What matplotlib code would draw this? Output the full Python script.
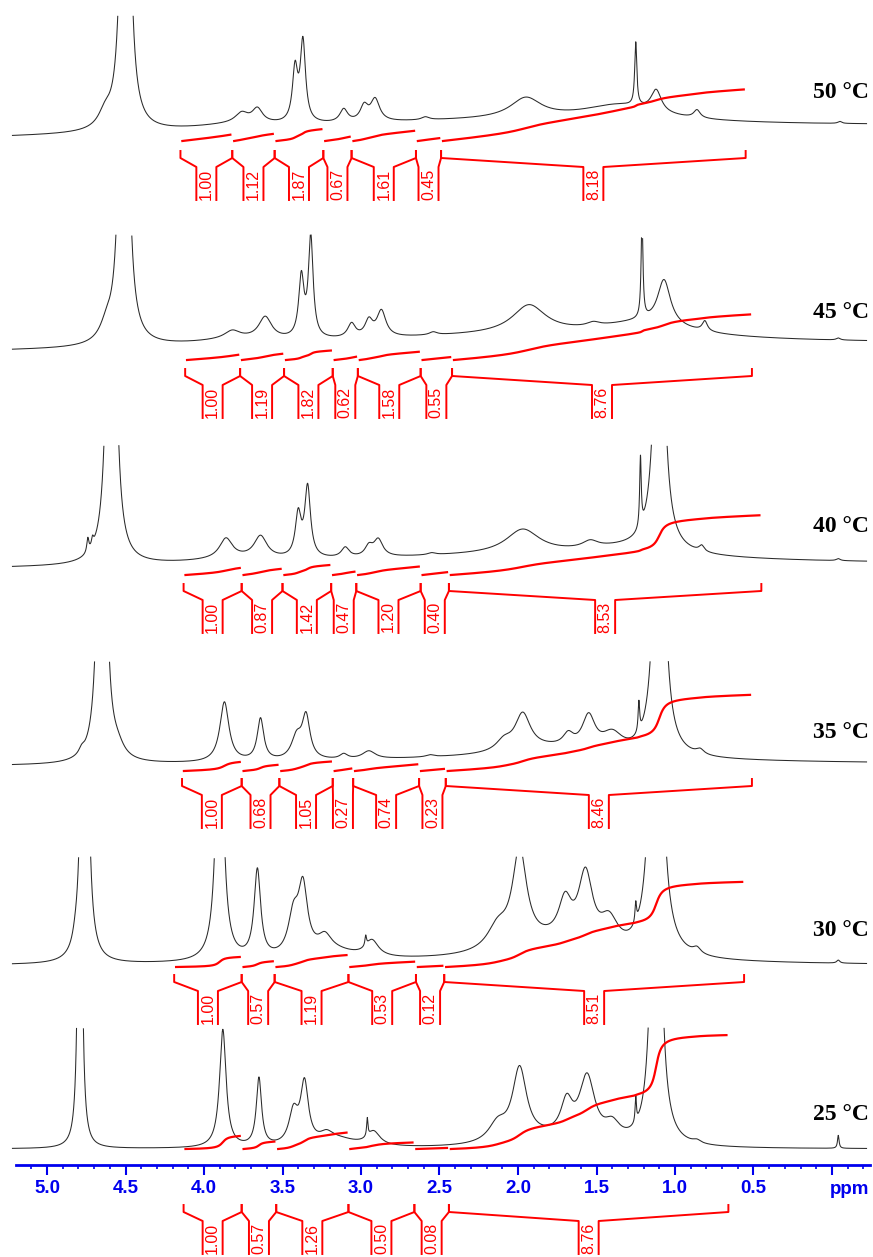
import numpy as np
import matplotlib.pyplot as plt
from matplotlib.ticker import MultipleLocator

###################################
# Data

temps = ['50 °C', '45 °C', '40 °C', '35 °C', '30 °C', '25 °C']

# peaks: (shift in ppm, height in px, half width in ppm)
peaks_50 = [(4.50, 800, 0.02), (4.63, 14, 0.05),
            (3.80, 5, 0.35), (3.76, 10, 0.05), (3.66, 14, 0.04),
            (3.42, 52, 0.02), (3.37, 80, 0.02),
            (3.11, 13, 0.03), (2.98, 15, 0.03), (2.91, 22, 0.035), (2.59, 3, 0.03),
            (1.95, 20, 0.12), (1.35, 16, 0.3),
            (1.25, 63, 0.008), (1.12, 22, 0.04), (0.86, 8, 0.025), (-0.05, 2, 0.015),
            (2.2, 13, 1.8)]
peaks_45 = [(4.51, 800, 0.02), (4.62, 15, 0.05),
            (3.80, 5, 0.35), (3.82, 8, 0.06), (3.61, 22, 0.05),
            (3.38, 60, 0.02), (3.32, 100, 0.018),
            (3.06, 14, 0.03), (2.95, 16, 0.03), (2.87, 26, 0.035), (2.54, 3, 0.03),
            (1.93, 28, 0.13), (1.52, 4, 0.05),
            (1.21, 100, 0.007), (1.07, 45, 0.05), (0.81, 10, 0.02), (-0.04, 2, 0.015),
            (1.2, 14, 0.35), (2.0, 13, 1.6)]
peaks_40 = [(4.59, 800, 0.02), (4.74, 14, 0.008), (4.71, 8, 0.008),
            (3.80, 4, 0.35), (3.86, 20, 0.05), (3.64, 22, 0.05),
            (3.40, 42, 0.022), (3.34, 70, 0.022),
            (3.10, 10, 0.03), (2.95, 10, 0.03), (2.89, 17, 0.035), (2.55, 2, 0.03),
            (1.97, 24, 0.13), (1.54, 7, 0.06),
            (1.22, 70, 0.006), (1.10, 400, 0.03), (0.83, 6, 0.02), (-0.04, 2, 0.015),
            (1.3, 8, 0.35), (2.0, 12, 1.6)]
peaks_35 = [(4.65, 800, 0.018), (4.55, 10, 0.05), (4.78, 5, 0.02),
            (3.87, 60, 0.035), (3.64, 42, 0.025),
            (3.41, 22, 0.04), (3.35, 42, 0.03),
            (3.11, 5, 0.03), (2.95, 8, 0.05), (2.56, 2, 0.03),
            (2.09, 10, 0.06), (1.97, 36, 0.06), (1.80, 8, 0.3),
            (1.68, 12, 0.04), (1.55, 33, 0.05), (1.40, 18, 0.08),
            (1.23, 30, 0.006), (1.10, 450, 0.03), (0.84, 5, 0.03),
            (2.0, 8, 1.5)]
peaks_30 = [(4.76, 800, 0.015), (4.82, 5, 0.02),
            (3.90, 300, 0.025), (3.66, 88, 0.025),
            (3.43, 38, 0.04), (3.37, 65, 0.035), (3.23, 14, 0.05), (3.20, 10, 0.2),
            (2.97, 10, 0.006), (2.93, 16, 0.05),
            (2.13, 22, 0.08), (1.99, 95, 0.055), (1.80, 15, 0.3),
            (1.70, 38, 0.05), (1.57, 70, 0.055), (1.42, 28, 0.07),
            (1.25, 20, 0.006), (1.12, 600, 0.03), (0.86, 6, 0.03), (-0.04, 3, 0.012),
            (2.0, 5, 1.5)]
peaks_25 = [(4.79, 700, 0.01),
            (3.88, 118, 0.025), (3.65, 68, 0.02),
            (3.43, 32, 0.035), (3.36, 60, 0.03), (3.22, 8, 0.05), (3.15, 8, 0.15),
            (2.96, 18, 0.005), (2.92, 14, 0.05),
            (2.13, 18, 0.07), (1.99, 72, 0.055), (1.80, 8, 0.25),
            (1.69, 33, 0.045), (1.56, 63, 0.06), (1.40, 16, 0.06),
            (1.25, 25, 0.005), (1.12, 600, 0.025), (0.86, 3, 0.03), (-0.04, 13, 0.006)]

# integration limits (ppm) and integral values
bounds_50 = [4.15, 3.82, 3.55, 3.24, 3.06, 2.65, 2.49, 0.55]
bounds_45 = [4.12, 3.77, 3.49, 3.18, 3.02, 2.62, 2.42, 0.51]
bounds_40 = [4.13, 3.76, 3.50, 3.19, 3.03, 2.62, 2.44, 0.45]
bounds_35 = [4.14, 3.76, 3.52, 3.18, 3.05, 2.63, 2.46, 0.51]
bounds_30 = [4.19, 3.76, 3.55, 3.08, 2.65, 2.47, 0.56]
bounds_25 = [4.13, 3.76, 3.54, 3.08, 2.66, 2.44, 0.66]

ints_50 = [1.00, 1.12, 1.87, 0.67, 1.61, 0.45, 8.18]
ints_45 = [1.00, 1.19, 1.82, 0.62, 1.58, 0.55, 8.76]
ints_40 = [1.00, 0.87, 1.42, 0.47, 1.20, 0.40, 8.53]
ints_35 = [1.00, 0.68, 1.05, 0.27, 0.74, 0.23, 8.46]
ints_30 = [1.00, 0.57, 1.19, 0.53, 0.12, 8.51]
ints_25 = [1.00, 0.57, 1.26, 0.50, 0.08, 8.76]

tick_vals = [5.0, 4.5, 4.0, 3.5, 3.0, 2.5, 2.0, 1.5, 1.0, 0.5, 0.0]
tick_labels = ['5.0', '4.5', '4.0', '3.5', '3.0', '2.5', '2.0', '1.5', '1.0', '0.5', '']

###################################
# Layout (pixel rows of the picture, y grows downward)

peaks = [peaks_50, peaks_45, peaks_40, peaks_35, peaks_30, peaks_25]
bounds = [bounds_50, bounds_45, bounds_40, bounds_35, bounds_30, bounds_25]
ints = [ints_50, ints_45, ints_40, ints_35, ints_30, ints_25]

base_y = [(140, 129), (353, 346), (570, 566), (767, 765), (966, 966), (1149, 1149)]
top_y = [15, 235, 445, 661, 857, 1028]
int_y = [141, 360, 575, 771, 967, 1149]
int_k = [6.3, 5.2, 7.0, 9.0, 10.0, 13.0]
brk_y = [151, 369, 584, 779, 975, 1205]
temp_y = [92, 313, 527, 733, 930, 1115]

red = '#ff0000'
blue = '#0000ee'
px = 1 / 157.0  # ppm per pixel


def xpos(col):
    # picture column -> ppm
    return 5.0 - (col - 47) * px


fig = plt.figure(figsize=(8.73, 12.57), dpi=100)
ax = fig.add_axes([0, 0, 1, 1])
ax.set_xlim(xpos(0), xpos(873))
ax.set_ylim(1257, 0)
ax.axis('off')

x = np.linspace(5.22, -0.22, 12000)


def spectrum(pk):
    s = np.zeros_like(x)
    for c, h, w in pk:
        s += h * w ** 2 / ((x - c) ** 2 + w ** 2)
    return s


for i in range(6):
    sig = spectrum(peaks[i])
    yl, yr = base_y[i]
    y = yl + (yr - yl) * (5.22 - x) / 5.44 - sig
    y[y < top_y[i]] = np.nan
    ax.plot(x, y, color='#2a2a2a', lw=0.75)

    b = bounds[i]
    y1 = brk_y[i]
    for j, v in enumerate(ints[i]):
        # integral curve
        m = (x <= b[j] - 0.012) & (x >= b[j + 1] + 0.012)
        c = np.cumsum(sig[m])
        c = c / c[-1]
        ax.plot(x[m], int_y[i] - int_k[i] * v * c, color=red, lw=1.6)
        # bracket
        mid = (b[j] + b[j + 1]) / 2
        ax.plot([b[j], b[j], mid + 10 * px, mid + 10 * px],
                [y1, y1 + 7, y1 + 16, y1 + 49], color=red, lw=1.4)
        ax.plot([b[j + 1], b[j + 1], mid - 10 * px, mid - 10 * px],
                [y1, y1 + 7, y1 + 16, y1 + 49], color=red, lw=1.4)
        ax.text(mid, y1 + 33, '%.2f' % v, rotation=90, ha='center', va='center',
                color=red, fontsize=11.5, family='Liberation Sans')

    ax.text(xpos(869), temp_y[i], temps[i], ha='right', va='center',
            fontsize=17, fontweight='bold', family='Liberation Serif')

# ppm axis
axx = fig.add_axes([16 / 873, (1257 - 1165) / 1257, 854 / 873, 0.001])
axx.set_xlim(xpos(16), xpos(870))
axx.patch.set_visible(False)
for s in ['top', 'left', 'right']:
    axx.spines[s].set_visible(False)
axx.spines['bottom'].set_color(blue)
axx.spines['bottom'].set_linewidth(2)
axx.set_yticks([])
axx.set_xticks(tick_vals, tick_labels, fontsize=13.5, fontweight='bold',
               color=blue, family='Liberation Sans')
axx.xaxis.set_minor_locator(MultipleLocator(0.1))
axx.tick_params(axis='x', which='major', length=7, width=1.5, color=blue, pad=4)
axx.tick_params(axis='x', which='minor', length=3, width=1.2, color=blue)
ax.text(xpos(850), 1189, 'ppm', ha='center', va='center', fontsize=13.5,
        fontweight='bold', color=blue, family='Liberation Sans')

fig.savefig('out.png', dpi=100)
